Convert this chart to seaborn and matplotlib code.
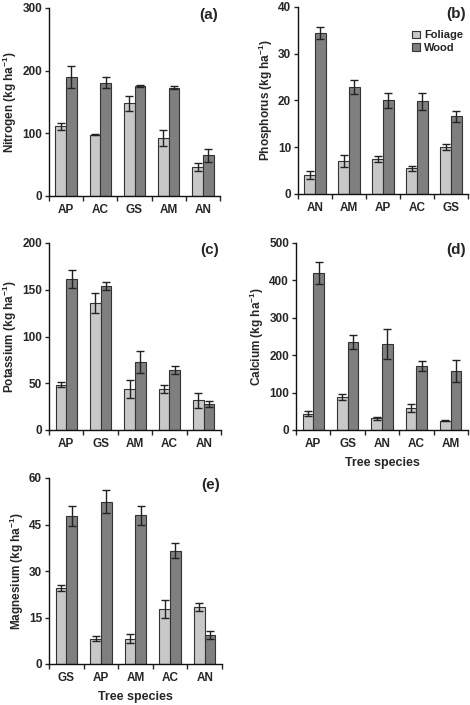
import numpy as np
import pandas as pd
import matplotlib
matplotlib.use("Agg")
import matplotlib.pyplot as plt
import seaborn as sns

# values (kg ha-1), mean and error
nit_species = ["AP", "AC", "GS", "AM", "AN"]
nit_foliage = [111, 98, 148, 93, 46]
nit_foliage_err = [5, 1, 12, 13, 6.5]
nit_wood = [190, 181, 175.5, 173, 65]
nit_wood_err = [17, 9, 1.5, 3, 10]

pho_species = ["AN", "AM", "AP", "AC", "GS"]
pho_foliage = [4.1, 7.1, 7.5, 5.5, 10.0]
pho_foliage_err = [0.8, 1.3, 0.6, 0.5, 0.6]
pho_wood = [34.4, 22.8, 20.0, 19.8, 16.6]
pho_wood_err = [1.3, 1.5, 1.7, 1.8, 1.1]

pot_species = ["AP", "GS", "AM", "AC", "AN"]
pot_foliage = [48.5, 135.8, 44, 44, 32]
pot_foliage_err = [2.5, 11, 10, 4, 8]
pot_wood = [161.5, 153.7, 73, 64, 28]
pot_wood_err = [10, 4.5, 12, 4, 3]

cal_species = ["AP", "GS", "AN", "AC", "AM"]
cal_foliage = [43.5, 87, 32, 58.5, 25]
cal_foliage_err = [6, 8, 4, 10, 2]
cal_wood = [420, 236, 229, 171, 157]
cal_wood_err = [30, 19, 40, 14, 29]

mag_species = ["GS", "AP", "AM", "AC", "AN"]
mag_foliage = [24.6, 8.2, 8.2, 17.8, 18.5]
mag_foliage_err = [1.0, 0.7, 1.4, 3.0, 1.3]
mag_wood = [47.7, 52.3, 48.0, 36.6, 9.4]
mag_wood_err = [3.3, 3.7, 3.0, 2.3, 1.4]

sns.set_style("ticks")
plt.rcParams["font.family"] = ["Liberation Sans", "DejaVu Sans"]
plt.rcParams["font.weight"] = "bold"
plt.rcParams["axes.labelweight"] = "bold"
plt.rcParams["mathtext.fontset"] = "custom"
plt.rcParams["mathtext.bf"] = "Liberation Sans:bold"
plt.rcParams["mathtext.rm"] = "Liberation Sans:bold"
plt.rcParams["mathtext.default"] = "bf"

colors = {"Foliage": "#c8c8c8", "Wood": "#7f7f7f"}

fig = plt.figure(figsize=(4.7, 7.05), dpi=100)

W, H = 470, 705
def box(l, r, t, b):
    return [l / W, (H - b) / H, (r - l) / W, (b - t) / H]

panels = [
    ("(a)", "Nitrogen", nit_species, nit_foliage, nit_foliage_err, nit_wood, nit_wood_err,
     300, [0, 100, 200, 300], box(49, 220, 8, 196), False, False),
    ("(b)", "Phosphorus", pho_species, pho_foliage, pho_foliage_err, pho_wood, pho_wood_err,
     40, [0, 10, 20, 30, 40], box(298, 468, 7, 194), True, False),
    ("(c)", "Potassium", pot_species, pot_foliage, pot_foliage_err, pot_wood, pot_wood_err,
     200, [0, 50, 100, 150, 200], box(49, 221, 243, 430), False, False),
    ("(d)", "Calcium", cal_species, cal_foliage, cal_foliage_err, cal_wood, cal_wood_err,
     500, [0, 100, 200, 300, 400, 500], box(296, 468, 243, 430), False, True),
    ("(e)", "Magnesium", mag_species, mag_foliage, mag_foliage_err, mag_wood, mag_wood_err,
     60, [0, 15, 30, 45, 60], box(49, 222, 478, 664), False, True),
]

for tag, name, sp, fol, fol_e, wood, wood_e, ymax, yt, pos, show_leg, show_xl in panels:
    ax = fig.add_axes(pos)
    df = pd.DataFrame({
        "species": sp + sp,
        "value": fol + wood,
        "part": ["Foliage"] * len(sp) + ["Wood"] * len(sp),
    })
    sns.barplot(data=df, x="species", y="value", hue="part", palette=colors,
                width=0.62, edgecolor="#333333", linewidth=0.8, errorbar=None,
                legend=show_leg, ax=ax)
    for cont, errs in zip(ax.containers, [fol_e, wood_e]):
        for bar, e in zip(cont, errs):
            ax.errorbar(bar.get_x() + bar.get_width() / 2, bar.get_height(), yerr=e,
                        fmt="none", ecolor="#222222", elinewidth=1.0, capsize=3,
                        capthick=1.0)
    ax.set_xlim(-0.5, len(sp) - 0.5)
    ax.set_ylim(0, ymax)
    ax.set_yticks(yt)
    ax.set_xticks(np.arange(-0.5, len(sp), 1.0), minor=True)
    ax.tick_params(axis="x", which="major", length=0, pad=6, labelsize=8.5)
    ax.tick_params(axis="x", which="minor", length=3.5, width=1, direction="out")
    ax.tick_params(axis="y", length=3, width=1, direction="out", labelsize=8.5, pad=2)
    for lab in ax.get_xticklabels() + ax.get_yticklabels():
        lab.set_fontweight("bold")
    sns.despine(ax=ax)
    for s in ["left", "bottom"]:
        ax.spines[s].set_linewidth(1.0)
        ax.spines[s].set_color("#111111")
    ax.set_ylabel(name + r" (kg ha$^{-1}$)", fontsize=8.5, labelpad=2)
    if show_xl:
        ax.set_xlabel("Tree species", fontsize=9, labelpad=5)
    else:
        ax.set_xlabel("")
    ax.text(0.99, 1.0, tag, transform=ax.transAxes, ha="right", va="top",
            fontsize=11, fontweight="bold")
    if show_leg:
        ax.legend(loc="upper right", bbox_to_anchor=(1.01, 0.91), frameon=False,
                  handlelength=0.7, handleheight=0.7, handletextpad=0.4,
                  labelspacing=0.2, borderaxespad=0.2,
                  prop={"weight": "bold", "size": 8}, title=None)

fig.savefig("out.png", dpi=100)
